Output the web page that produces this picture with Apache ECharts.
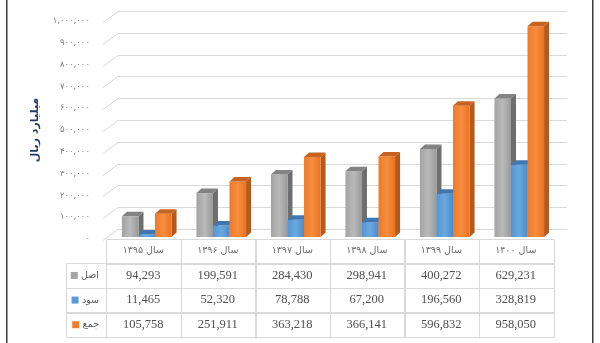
<!DOCTYPE html>
<html><head><meta charset="utf-8">
<script src="https://cdn.jsdelivr.net/npm/echarts@6/dist/echarts.min.js"></script>
<style>html,body{margin:0;padding:0;background:#fff}#c{width:600px;height:343px}</style>
</head><body><div id="c"></div>
<script>
const categories = ['سال ۱۳۹۵','سال ۱۳۹۶','سال ۱۳۹۷','سال ۱۳۹۸','سال ۱۳۹۹','سال ۱۴۰۰'];
const seriesNames = ['اصل','سود','جمع'];
const aslValues = [94293, 199591, 284430, 298941, 400272, 629231];
const sudValues = [11465, 52320, 78788, 67200, 196560, 328819];
const jamValues = [105758, 251911, 363218, 366141, 596832, 958050];
const yTickValues = [0,100000,200000,300000,400000,500000,600000,700000,800000,900000,1000000];
const yAxisTitle = 'میلیارد ریال';

const faDigits = '۰۱۲۳۴۵۶۷۸۹';
function toFa(v){ return v.toLocaleString('en-US').replace(/[0-9]/g, d => faDigits[+d]); }
function fmt(v){ return v.toLocaleString('en-US'); }

const palettes = [
  {front:['#a3a3a3','#b9b9b9','#9a9a9a'], side:'#6e6e6e', top:'#838383', sw:'#a5a5a5'},
  {front:['#5596d2','#6aa8df','#4b8bc9'], side:'#2f6aa6', top:'#3e77b4', sw:'#5b9bd5'},
  {front:['#ee7a28','#f68d3f','#ea7322'], side:'#b65a1c', top:'#c8631f', sw:'#ed7d31'}
];

function barRender(si){
  const p = palettes[si];
  return function(params, api){
    const cat = api.value(0), val = api.value(1);
    const base = api.coord([cat, 0]);
    const top = api.coord([cat, val]);
    const band = api.size([1, 0])[0];
    const bw = band * 0.222;
    const x0 = base[0] + 3.5 + (si - 1.5) * bw;
    const y0 = base[1], y1 = top[1];
    const dx = 5, dy = -4.5;
    return {type:'group', children:[
      {type:'polygon', shape:{points:[[x0+bw,y1],[x0+bw+dx,y1+dy],[x0+bw+dx,y0+dy],[x0+bw,y0]]}, style:{fill:p.side}},
      {type:'rect', shape:{x:x0, y:y1, width:bw, height:y0-y1}, style:{fill:new echarts.graphic.LinearGradient(0,0,1,0,[{offset:0,color:p.front[0]},{offset:0.5,color:p.front[1]},{offset:1,color:p.front[2]}])}},
      {type:'polygon', shape:{points:[[x0,y1],[x0+dx,y1+dy],[x0+bw+dx,y1+dy],[x0+bw,y1]]}, style:{fill:p.top}}
    ]};
  };
}

function wallRender(params, api){
  const v = api.value(0);
  const cs = params.coordSys;
  const y = Math.round(api.coord([0, v])[1]) + 0.5;
  return {type:'polyline', shape:{points:[[cs.x-3, y+1],[cs.x+12, y-10],[cs.x+cs.width+14, y-10]]},
    style:{stroke:'#d9d9d9', lineWidth:1, fill:null}};
}

const tableData = [];
categories.forEach((c,i)=>{
  tableData.push([i,0,c]);
  tableData.push([i,1,fmt(aslValues[i])]);
  tableData.push([i,2,fmt(sudValues[i])]);
  tableData.push([i,3,fmt(jamValues[i])]);
});

function tableRender(params, api){
  const c = api.value(0), r = api.value(1);
  const ctr = api.coord([c, r]);
  const w = api.size([1,0])[0], h = api.size([0,1])[1];
  const text = tableData[params.dataIndex][2];
  const x = Math.round(ctr[0]-w/2)+0.5, y = Math.round(ctr[1]-h/2)+0.5;
  const ch = [
    {type:'rect', shape:{x:x, y:y, width:Math.round(w), height:Math.round(h)}, style:{fill:null, stroke:'#d9d9d9', lineWidth:1}},
    {type:'text', style:{x:ctr[0], y:ctr[1], text:text, align:'center', verticalAlign:'middle',
      fill: r===0 ? '#6b6b6b' : '#4f4f4f',
      font: r===0 ? '9.5px "DejaVu Sans"' : '12.5px "Liberation Serif"'}}
  ];
  if (c === 0 && r > 0) {
    ch.push({type:'rect', shape:{x:x-40, y:y, width:40, height:Math.round(h)}, style:{fill:null, stroke:'#d9d9d9', lineWidth:1}});
  }
  return {type:'group', children:ch};
}

const chart = echarts.init(document.getElementById('c'), null, {renderer:'canvas'});
chart.setOption({
  animation:false,
  backgroundColor:'#fff',
  grid:[
    {left:106, right:47, top:21, height:218},
    {left:106, right:47, top:238.5, height:98.5},
    {left:106, right:47, top:17, height:220}
  ],
  xAxis:[
    {type:'category', gridIndex:0, data:categories, show:false},
    {type:'category', gridIndex:1, data:categories, show:false},
    {type:'category', gridIndex:2, data:categories, show:false}
  ],
  yAxis:[
    {type:'value', gridIndex:0, min:0, max:1000000, interval:100000,
      name:yAxisTitle, nameLocation:'middle', nameGap:65,
      nameTextStyle:{fontFamily:'DejaVu Sans', fontWeight:'bold', fontSize:11, color:'#1f3864'},
      axisLine:{show:false}, axisTick:{show:false}, splitLine:{show:false},
      axisLabel:{margin:16, color:'#7f7f7f', fontSize:8.5, fontFamily:'DejaVu Sans', formatter:v=>toFa(v)}},
    {type:'category', gridIndex:1, inverse:true, data:[''].concat(seriesNames),
      axisLine:{show:false}, axisTick:{show:false}, splitLine:{show:false},
      axisLabel:{margin:7, formatter:(v,idx)=> idx===0 ? '' : '{sw'+idx+'|} {t|'+v+'}',
        rich:{
          sw1:{width:7,height:7,backgroundColor:palettes[0].sw},
          sw2:{width:7,height:7,backgroundColor:palettes[1].sw},
          sw3:{width:7,height:7,backgroundColor:palettes[2].sw},
          t:{fontFamily:'DejaVu Sans', fontSize:9.5, color:'#595959'}
        }}},
    {type:'value', gridIndex:2, min:0, max:1000000, interval:100000, show:false, splitLine:{show:false}}
  ],
  series:[
    {type:'custom', name:'wall', xAxisIndex:0, yAxisIndex:0, renderItem:wallRender, data:yTickValues.map(v=>[v]), encode:{y:0}, silent:true, z:1},
    {type:'custom', name:seriesNames[0], xAxisIndex:2, yAxisIndex:2, renderItem:barRender(0), data:aslValues.map((v,i)=>[i,v]), encode:{x:0,y:1}, z:2},
    {type:'custom', name:seriesNames[1], xAxisIndex:2, yAxisIndex:2, renderItem:barRender(1), data:sudValues.map((v,i)=>[i,v]), encode:{x:0,y:1}, z:3},
    {type:'custom', name:seriesNames[2], xAxisIndex:2, yAxisIndex:2, renderItem:barRender(2), data:jamValues.map((v,i)=>[i,v]), encode:{x:0,y:1}, z:4},
    {type:'custom', name:'table', xAxisIndex:1, yAxisIndex:1, renderItem:tableRender, data:tableData.map(d=>[d[0],d[1]]), encode:{x:0,y:1}, clip:false, z:5}
  ],
  graphic:[
    {type:'rect', left:6, top:0, shape:{width:1.5, height:343}, style:{fill:'#3a3a3a'}},
    {type:'rect', left:592, top:0, shape:{width:1.5, height:343}, style:{fill:'#3a3a3a'}}
  ]
});
</script></body></html>
